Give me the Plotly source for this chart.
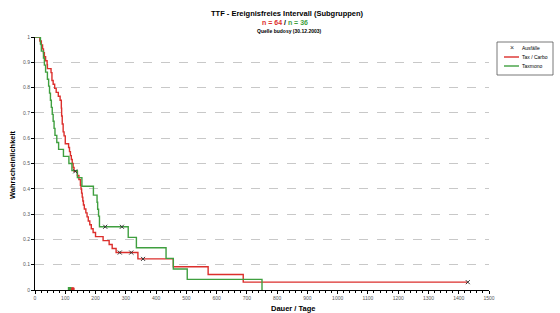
import plotly.graph_objects as go

# ---- data ----
green_t = [0, 18, 21, 28, 31, 35, 41, 45, 48, 51, 54, 57, 60, 63, 66, 72, 78, 94, 112, 122,
           140, 155, 193, 205, 207, 210, 213, 308, 335, 433, 457, 503, 750]
green_s = [1, 0.972, 0.944, 0.917, 0.889, 0.861, 0.833, 0.806, 0.778, 0.75, 0.722, 0.694, 0.667,
           0.639, 0.611, 0.583, 0.556, 0.528, 0.5, 0.472, 0.444, 0.41, 0.375, 0.347, 0.319, 0.292,
           0.25, 0.208, 0.167, 0.125, 0.083, 0.042, 0]
green_cens_t = [232, 287]
green_cens_s = [0.25, 0.25]

red_t = [0, 16, 21, 25, 28, 31, 35, 40, 41, 53, 56, 60, 65, 70, 77, 83, 87, 88, 90, 93,
         96, 100, 111, 114, 117, 120, 123, 126, 129, 140, 145, 150, 152, 154, 156, 158, 160, 163,
         168, 172, 176, 181, 186, 192, 200, 225, 245, 255, 268, 340, 457, 572, 688, 1430]
red_s = [1, 0.984, 0.969, 0.953, 0.938, 0.922, 0.906, 0.891, 0.875, 0.859, 0.828, 0.813, 0.797,
         0.781, 0.766, 0.75, 0.719, 0.688, 0.656, 0.625, 0.609, 0.578, 0.563, 0.547, 0.531, 0.516,
         0.5, 0.484, 0.469, 0.453, 0.437, 0.414, 0.399, 0.383, 0.367, 0.352, 0.336, 0.32, 0.305,
         0.289, 0.273, 0.258, 0.242, 0.227, 0.211, 0.195, 0.18, 0.164, 0.148, 0.123, 0.092, 0.061,
         0.031, 0.031]
red_cens_t = [133, 280, 318, 357, 1430]
red_cens_s = [0.469, 0.148, 0.148, 0.123, 0.031]

median_green = 115
median_red = 125

x_ticks = list(range(0, 1501, 100))
y_ticks = [0, 0.1, 0.2, 0.3, 0.4, 0.5, 0.6, 0.7, 0.8, 0.9, 1]
y_tick_labels = ["0", "0.1", "0.2", "0.3", "0.4", "0.5", "0.6", "0.7", "0.8", "0.9", "1"]

RED = "#dc2f2c"
GREEN = "#3f9f3f"
FONT = "Liberation Sans, Arial, sans-serif"

W, H = 560, 313
ML, MR, MT, MB = 35, 71, 37, 23
PW, PH = W - ML - MR, H - MT - MB


def px(xp):
    return (xp - ML) / PW


def py(yp):
    return (H - MB - yp) / PH


def text_at(xp, yp, text, size, color="#000", xanchor="center", angle=0):
    return dict(x=px(xp), y=py(yp), xref="paper", yref="paper", showarrow=False,
                xanchor=xanchor, yanchor="middle", textangle=angle, text=text,
                font=dict(size=size, color=color, family=FONT))


fig = go.Figure()
fig.add_trace(go.Scatter(x=red_t, y=red_s, mode="lines", line=dict(color=RED, width=1.4, shape="hv"),
                         name="Tax / Carbo", showlegend=False))
fig.add_trace(go.Scatter(x=green_t, y=green_s, mode="lines", line=dict(color=GREEN, width=1.4, shape="hv"),
                         name="Taxmono", showlegend=False))
fig.add_trace(go.Scatter(x=green_cens_t + red_cens_t, y=green_cens_s + red_cens_s, mode="markers",
                         marker=dict(symbol="x-thin", size=4, line=dict(width=1, color="#333333")),
                         name="Ausfälle", showlegend=False))
fig.add_trace(go.Scatter(x=[median_green], y=[0.004], mode="markers", cliponaxis=False,
                         marker=dict(symbol="square", size=4, color=GREEN), showlegend=False))
fig.add_trace(go.Scatter(x=[median_red], y=[0.004], mode="markers", cliponaxis=False,
                         marker=dict(symbol="circle", size=4, color=RED), showlegend=False))

ann = [
    text_at(287, 13, "<b>TTF - Ereignisfreies Intervall (Subgruppen)</b>", 7.5),
    text_at(285, 22.5, f"<b><span style='color:{RED}'>n = 64</span> / "
                       f"<span style='color:{GREEN}'>n = 36</span></b>", 7),
    text_at(289, 31, "<b>Quelle budosy (30.12.2003)</b>", 5),
    text_at(293, 308, "<b>Dauer / Tage</b>", 7.5),
    text_at(12, 165, "<b>Wahrscheinlichkeit</b>", 7.5, angle=-90),
]

# manual legend
shapes = [dict(type="rect", xref="paper", yref="paper", x0=px(497), x1=px(553), y0=py(42), y1=py(75),
               line=dict(color="#555555", width=0.8), fillcolor="white", layer="below")]
legend_rows = [("Ausfälle", None, 48), ("Tax / Carbo", RED, 57), ("Taxmono", GREEN, 66)]
for label, col, yy in legend_rows:
    if col is None:
        ann.append(text_at(512, yy, "×", 7, color="#333"))
    else:
        shapes.append(dict(type="line", xref="paper", yref="paper", x0=px(504), x1=px(519),
                           y0=py(yy), y1=py(yy), line=dict(color=col, width=1.4)))
    ann.append(text_at(520, yy, label, 5, xanchor="left"))

fig.update_layout(
    width=W, height=H, margin=dict(l=ML, r=MR, t=MT, b=MB, pad=0, autoexpand=False),
    paper_bgcolor="white", plot_bgcolor="white",
    font=dict(family=FONT, size=5, color="#333"),
    annotations=ann, shapes=shapes, showlegend=False,
    xaxis=dict(range=[0, 1500], tickvals=x_ticks, ticktext=[str(v) for v in x_ticks], automargin=False,
               showgrid=False, zeroline=False, showline=True, linecolor="#000", linewidth=1,
               ticks="outside", ticklen=3, tickcolor="#000", tickwidth=0.8,
               tickfont=dict(size=5, color="#555"),
               minor=dict(dtick=20, ticks="outside", ticklen=2, tickcolor="#000", tickwidth=0.6)),
    yaxis=dict(range=[0, 1], tickvals=y_ticks, ticktext=y_tick_labels, automargin=False,
               showgrid=True, gridcolor="#c8c8c8", griddash="dash", gridwidth=0.8,
               zeroline=False, showline=True, linecolor="#000", linewidth=1,
               ticks="outside", ticklen=3, tickcolor="#000", tickwidth=0.8,
               tickfont=dict(size=5, color="#555")),
)

fig.write_html("out.html", config={"displayModeBar": False},
               post_script="document.body.style.margin='0';document.body.style.padding='0';")
